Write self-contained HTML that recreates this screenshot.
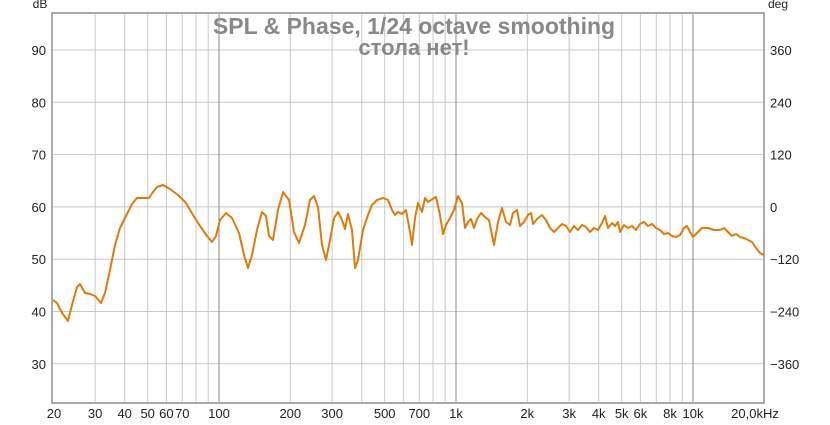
<!DOCTYPE html><html><head><style>body{margin:0;background:#fff}svg{display:block}text{font-family:"Liberation Sans",sans-serif}</style></head><body>
<svg width="830" height="425" xmlns="http://www.w3.org/2000/svg">
<rect width="830" height="425" fill="#fff"/>
<g stroke="#c8c8c8" stroke-width="1">
<line x1="95.1" y1="13" x2="95.1" y2="403"/><line x1="124.7" y1="13" x2="124.7" y2="403"/><line x1="147.7" y1="13" x2="147.7" y2="403"/><line x1="166.4" y1="13" x2="166.4" y2="403"/><line x1="182.3" y1="13" x2="182.3" y2="403"/><line x1="196" y1="13" x2="196" y2="403"/><line x1="208.2" y1="13" x2="208.2" y2="403"/>
<line x1="290.3" y1="13" x2="290.3" y2="403"/><line x1="332.1" y1="13" x2="332.1" y2="403"/><line x1="361.7" y1="13" x2="361.7" y2="403"/><line x1="384.7" y1="13" x2="384.7" y2="403"/><line x1="403.4" y1="13" x2="403.4" y2="403"/><line x1="419.3" y1="13" x2="419.3" y2="403"/><line x1="433" y1="13" x2="433" y2="403"/><line x1="445.2" y1="13" x2="445.2" y2="403"/>
<line x1="527.3" y1="13" x2="527.3" y2="403"/><line x1="569.1" y1="13" x2="569.1" y2="403"/><line x1="598.7" y1="13" x2="598.7" y2="403"/><line x1="621.7" y1="13" x2="621.7" y2="403"/><line x1="640.4" y1="13" x2="640.4" y2="403"/><line x1="656.3" y1="13" x2="656.3" y2="403"/><line x1="670" y1="13" x2="670" y2="403"/><line x1="682.2" y1="13" x2="682.2" y2="403"/>
<line x1="52" y1="50" x2="764" y2="50"/><line x1="52" y1="102.3" x2="764" y2="102.3"/><line x1="52" y1="154.6" x2="764" y2="154.6"/><line x1="52" y1="206.9" x2="764" y2="206.9"/><line x1="52" y1="259.2" x2="764" y2="259.2"/><line x1="52" y1="311.5" x2="764" y2="311.5"/><line x1="52" y1="363.8" x2="764" y2="363.8"/>
</g>
<g stroke="#888"><line x1="219" y1="13" x2="219" y2="403"/><line x1="456" y1="13" x2="456" y2="403"/><line x1="693" y1="13" x2="693" y2="403"/></g>
<rect x="52" y="13" width="712" height="390" fill="none" stroke="#aaa" stroke-width="2"/>
<g font-size="13" fill="#222" text-anchor="end">
<text x="46" y="55">90</text><text x="46" y="107.3">80</text><text x="46" y="159.6">70</text><text x="46" y="211.9">60</text><text x="46" y="264.2">50</text><text x="46" y="316.5">40</text><text x="46" y="368.8">30</text>
</g>
<g font-size="13" fill="#222">
<text x="770" y="55">360</text><text x="770" y="107.3">240</text><text x="770" y="159.6">120</text><text x="770" y="211.9">0</text><text x="770" y="264.2">−120</text><text x="770" y="316.5">−240</text><text x="770" y="368.8">−360</text>
</g>
<g font-size="13" fill="#222" text-anchor="middle">
<text x="54" y="418">20</text><text x="95.1" y="418">30</text><text x="124.7" y="418">40</text><text x="147.7" y="418">50</text><text x="166.4" y="418">60</text><text x="182.3" y="418">70</text><text x="219" y="418">100</text><text x="290.3" y="418">200</text><text x="332.1" y="418">300</text><text x="384.7" y="418">500</text><text x="419.3" y="418">700</text><text x="456" y="418">1k</text><text x="527.3" y="418">2k</text><text x="569.1" y="418">3k</text><text x="598.7" y="418">4k</text><text x="621.7" y="418">5k</text><text x="640.4" y="418">6k</text><text x="670" y="418">8k</text><text x="693" y="418">10k</text><text x="755" y="418">20,0kHz</text>
<text x="40" y="8" font-size="12">dB</text><text x="778" y="8" font-size="12">deg</text>
</g>
<polyline points="53,300 57,303 62,313 68,321 72,305 77,287 80,284 85,293 90,294 95,296 101,303 105,293 110,270 115,245 120,228 127,214 132,204 137,198 142,198 149,198 153,192 157,187 163,185 170,189 178,195 186,203 193,215 200,226 207,236 212,242 216,236 220,220 226,213 232,218 239,233 244,255 248,268 252,255 257,230 262,212 266,216 269,236 273,240 278,210 283,192 289,200 294,232 299,243 305,225 310,200 314,196 318,207 322,245 326,260 330,240 334,218 338,212 342,220 345,229 348,214 352,230 355,268 358,260 363,230 368,215 372,205 377,200 383,198 388,200 392,210 395,215 398,212 402,214 406,210 410,232 412,245 415,218 418,203 422,212 425,198 428,202 431,200 436,197 440,215 443,234 446,225 450,218 454,210 458,196 462,203 465,228 468,222 471,219 474,228 477,219 481,213 485,217 489,220 494,245 498,222 502,208 506,222 510,225 513,213 517,210 520,226 524,222 528,215 531,213 533,224 537,219 542,215 546,220 550,228 554,232 558,228 562,224 566,226 570,232 574,226 578,230 582,225 586,227 590,232 594,228 598,230 602,223 605,216 608,228 612,223 615,226 618,222 620,232 624,225 628,228 632,226 636,230 640,224 644,222 648,226 652,224 656,228 660,230 664,234 668,233 672,236 676,237 680,235 684,228 687,226 690,232 693,237 697,233 702,228 708,228 714,230 720,230 724,228 728,232 732,236 736,234 740,237 744,238 748,240 752,242 756,248 760,253 764,255" fill="none" stroke="#e07b0a" stroke-width="2" stroke-linejoin="round"/>
<text x="414" y="34" font-size="23" font-weight="bold" text-anchor="middle" fill="#888">SPL &amp; Phase, 1/24 octave smoothing</text>
<text x="414" y="55" font-size="22" font-weight="bold" text-anchor="middle" fill="#888">стола нет!</text>
</svg></body></html>
